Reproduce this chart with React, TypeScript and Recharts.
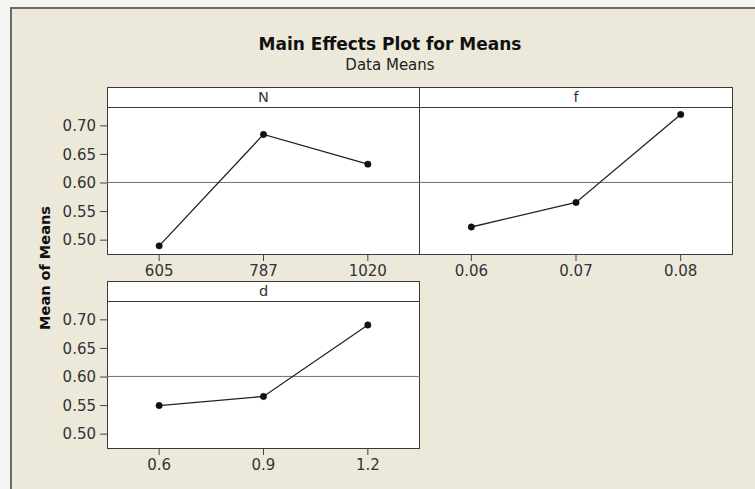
import React from 'react';
import { LineChart, Line, XAxis, YAxis, ReferenceLine } from 'recharts';

// factor levels and the mean response at each level
const nLevels = ['605', '787', '1020'];
const nMeans = [0.49, 0.685, 0.633];

const fLevels = ['0.06', '0.07', '0.08'];
const fMeans = [0.523, 0.566, 0.72];

const dLevels = ['0.6', '0.9', '1.2'];
const dMeans = [0.55, 0.566, 0.691];

const yTicks = [0.5, 0.55, 0.6, 0.65, 0.7];
const grandMean = 0.601;

const FONT = '"DejaVu Sans", Verdana, sans-serif';
const Y_DOMAIN: [number, number] = [0.474, 0.733];

interface PanelProps {
  title: string;
  levels: string[];
  means: number[];
  left: number;
  top: number;
  width: number;
  height: number;
  showY: boolean;
}

const Panel: React.FC<PanelProps> = ({ title, levels, means, left, top, width, height, showY }) => {
  const data = levels.map((label, i) => ({ x: i, label, mean: means[i] }));
  const padL = 70;
  const padT = 10;
  const padR = 10;
  const padB = 40;
  return (
    <>
      {/* header strip */}
      <div style={{
        position: 'absolute', left, top: top - 20, width, height: 21,
        boxSizing: 'border-box', border: '1px solid #3a3a3a', background: '#fff',
        textAlign: 'center', fontSize: 14.5, lineHeight: '19px', color: '#333', fontFamily: FONT,
      }}>
        {title}
      </div>
      {/* plot box */}
      <div style={{
        position: 'absolute', left, top, width, height,
        boxSizing: 'border-box', border: '1px solid #3a3a3a', background: '#fff',
      }} />
      <div style={{ position: 'absolute', left: left - padL, top: top - padT }}>
        <LineChart
          width={width + padL + padR}
          height={height + padT + padB}
          data={data}
          margin={{ top: padT, right: padR, left: showY ? padL - 60 : padL, bottom: padB - 30 }}
        >
          <XAxis
            dataKey="x"
            type="number"
            domain={[-0.5, 2.5]}
            ticks={[0, 1, 2]}
            tickFormatter={(v) => levels[v]}
            axisLine={false}
            tickLine={{ stroke: '#444' }}
            tickSize={6}
            tickMargin={4}
            height={30}
            tick={{ fill: '#333', fontSize: 15, fontFamily: FONT }}
          />
          <YAxis
            hide={!showY}
            type="number"
            domain={Y_DOMAIN}
            ticks={yTicks}
            tickFormatter={(v) => Number(v).toFixed(2)}
            axisLine={false}
            tickLine={{ stroke: '#444' }}
            tickSize={7}
            tickMargin={4}
            width={60}
            allowDataOverflow
            tick={{ fill: '#333', fontSize: 15, fontFamily: FONT }}
          />
          <ReferenceLine y={grandMean} stroke="#6e6e6e" strokeWidth={1} />
          <Line
            dataKey="mean"
            stroke="#222"
            strokeWidth={1.3}
            dot={{ r: 3.2, fill: '#111', stroke: '#111', strokeWidth: 0.5 }}
            isAnimationActive={false}
          />
        </LineChart>
      </div>
    </>
  );
};

const App: React.FC = () => {
  return (
    <div style={{
      position: 'absolute', left: 0, top: 0, width: 755, height: 489,
      background: '#f4f4f1', overflow: 'hidden', fontFamily: FONT,
    }}>
      <div style={{
        position: 'absolute', left: 10, top: 7, width: 780, height: 520,
        border: '2px solid #6a6a6a', background: '#ece9db',
      }} />
      <div style={{
        position: 'absolute', left: 190, top: 33, width: 400, textAlign: 'center',
        fontSize: 17, fontWeight: 'bold', color: '#111', lineHeight: '22px',
      }}>
        Main Effects Plot for Means
      </div>
      <div style={{
        position: 'absolute', left: 190, top: 56, width: 400, textAlign: 'center',
        fontSize: 15, color: '#222', lineHeight: '19px',
      }}>
        Data Means
      </div>
      <div style={{
        position: 'absolute', left: 45, top: 268, width: 0, height: 0,
      }}>
        <div style={{
          position: 'absolute', left: -80, top: -9, width: 160, textAlign: 'center',
          transform: 'rotate(-90deg)', fontSize: 14.5, fontWeight: 'bold', color: '#111',
          lineHeight: '18px',
        }}>
          Mean of Means
        </div>
      </div>

      <Panel title="N" levels={nLevels} means={nMeans} left={107} top={107} width={313} height={148} showY />
      <Panel title="f" levels={fLevels} means={fMeans} left={419} top={107} width={314} height={148} showY={false} />
      <Panel title="d" levels={dLevels} means={dMeans} left={107} top={301} width={313} height={148} showY />
    </div>
  );
};

export default App;
